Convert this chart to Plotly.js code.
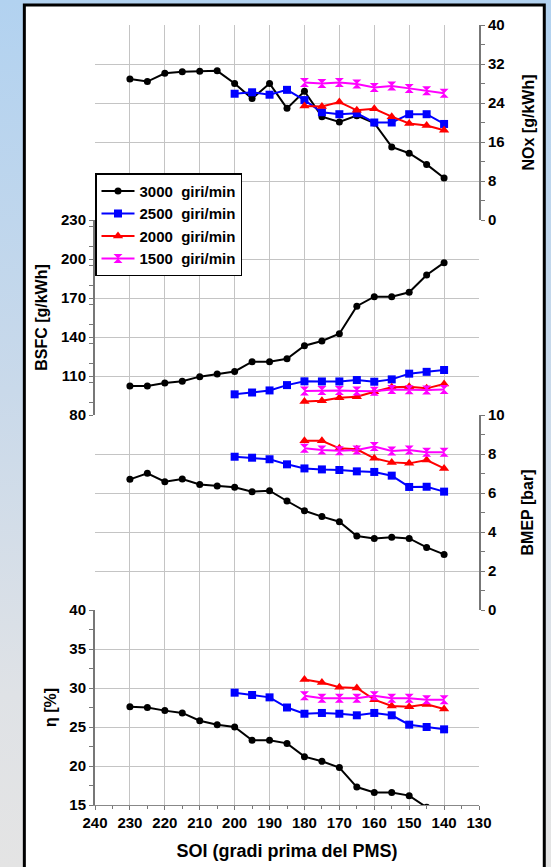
<!DOCTYPE html>
<html>
<head>
<meta charset="utf-8">
<script src="https://cdn.plot.ly/plotly-3.0.1.min.js"></script>
<style>
  html, body { margin: 0; padding: 0; width: 551px; height: 867px; overflow: hidden;
    background: linear-gradient(to bottom, #b2d2f0 0%, #c9d9ea 45%, #dfe2e6 80%, #e4e4e4 100%); }
  #chart { width: 551px; height: 867px; }
</style>
</head>
<body>
<div id="chart"></div>
<script>
// ---- data ----
const soi3000 = [230, 225, 220, 215, 210, 205, 200, 195, 190, 185, 180, 175, 170, 165, 160, 155, 150, 145, 140];
const soi2500 = [200, 195, 190, 185, 180, 175, 170, 165, 160, 155, 150, 145, 140];
const soi2000 = [180, 175, 170, 165, 160, 155, 150, 145, 140];
const soi1500 = [180, 175, 170, 165, 160, 155, 150, 145, 140];

const nox3000 = [28.9, 28.4, 30.1, 30.4, 30.5, 30.6, 28.0, 24.9, 28.0, 22.9, 26.4, 21.2, 20.1, 21.4, 19.9, 15.0, 13.7, 11.4, 8.6];
const nox2500 = [25.9, 26.2, 25.7, 26.7, 24.6, 22.1, 21.7, 21.9, 20.0, 20.0, 21.7, 21.7, 19.7];
const nox2000 = [23.4, 23.3, 24.2, 22.5, 22.8, 21.2, 19.8, 19.4, 18.4];
const nox1500 = [28.2, 28.0, 28.2, 27.9, 27.2, 27.5, 27.0, 26.5, 26.0];

const bsfc3000 = [102.4, 102.4, 104.6, 105.9, 109.5, 111.5, 113.5, 121.0, 121.0, 123.3, 133.3, 136.9, 142.5, 163.7, 171.0, 171.0, 174.4, 187.7, 197.2];
const bsfc2500 = [95.9, 97.3, 98.9, 103.0, 105.9, 105.8, 105.8, 106.9, 105.6, 107.4, 111.8, 113.2, 114.6];
const bsfc2000 = [90.3, 91.0, 93.3, 94.1, 97.9, 101.3, 101.8, 100.5, 103.8];
const bsfc1500 = [98.5, 98.8, 98.8, 98.5, 98.2, 99.7, 99.4, 99.2, 99.7];

const bmep3000 = [6.70, 7.01, 6.58, 6.72, 6.44, 6.36, 6.29, 6.07, 6.12, 5.59, 5.09, 4.79, 4.53, 3.79, 3.67, 3.73, 3.67, 3.21, 2.85];
const bmep2500 = [7.86, 7.81, 7.73, 7.47, 7.26, 7.21, 7.18, 7.11, 7.08, 6.89, 6.31, 6.32, 6.07];
const bmep2000 = [8.68, 8.68, 8.29, 8.24, 7.78, 7.57, 7.52, 7.69, 7.26];
const bmep1500 = [8.29, 8.21, 8.17, 8.21, 8.38, 8.15, 8.21, 8.09, 8.09];

const eta3000 = [27.6, 27.5, 27.1, 26.8, 25.8, 25.3, 25.0, 23.3, 23.3, 22.9, 21.2, 20.6, 19.8, 17.3, 16.6, 16.6, 16.2, 14.7, 14.3];
const eta2500 = [29.4, 29.1, 28.8, 27.5, 26.7, 26.8, 26.7, 26.5, 26.8, 26.5, 25.3, 25.0, 24.7];
const eta2000 = [31.1, 30.7, 30.1, 30.0, 28.5, 27.7, 27.6, 27.9, 27.3];
const eta1500 = [29.0, 28.7, 28.7, 28.7, 29.0, 28.7, 28.7, 28.5, 28.5];

const seriesNames = ['3000\u00a0 giri/min', '2500\u00a0 giri/min', '2000\u00a0 giri/min', '1500\u00a0 giri/min'];

// ---- styling ----
const styles = [
  {color: '#000000', symbol: 'circle', size: 7},
  {color: '#0000ff', symbol: 'square', size: 8},
  {color: '#ff0000', symbol: 'triangle-up', size: 9},
  {color: '#ff00ff', symbol: 'hourglass', size: 9}
];
const xs = [soi3000, soi2500, soi2000, soi1500];
const panels = [
  {axis: 'y2', data: [nox3000, nox2500, nox2000, nox1500]},
  {axis: 'y',  data: [bsfc3000, bsfc2500, bsfc2000, bsfc1500]},
  {axis: 'y3', data: [bmep3000, bmep2500, bmep2000, bmep1500]},
  {axis: 'y4', data: [eta3000, eta2500, eta2000, eta1500]}
];

const traces = [];
for (let s = 0; s < 4; s++) {
  panels.forEach((p, pi) => {
    traces.push({
      type: 'scatter', mode: 'lines+markers',
      x: xs[s], y: p.data[s],
      xaxis: 'x', yaxis: p.axis,
      name: seriesNames[s], legendgroup: 'g' + s,
      showlegend: pi === 0,
      line: {color: styles[s].color, width: 2},
      marker: {color: styles[s].color, symbol: styles[s].symbol, size: styles[s].size,
               line: {width: 0}},
      cliponaxis: true
    });
  });
}

const tickFont = {family: 'Liberation Sans, Arial, sans-serif', size: 15, color: '#000', weight: 'bold'};
const titleFont = {family: 'Liberation Sans, Arial, sans-serif', size: 16, color: '#000', weight: 'bold'};
const gridColor = '#c4c4c4';

function yax(domain, range, dtick, side, title, standoff) {
  return {
    domain: domain, range: range, dtick: dtick, tick0: range[0], side: side, anchor: 'x',
    showgrid: true, gridcolor: gridColor, gridwidth: 1, zeroline: false,
    showline: true, linecolor: '#777', linewidth: 2,
    ticks: 'outside', ticklen: 4, tickcolor: '#777', tickwidth: 1,
    minor: {dtick: dtick / 2, ticks: 'outside', ticklen: 4, tickcolor: '#777', showgrid: false},
    tickfont: tickFont,
    title: {text: title, font: titleFont, standoff: standoff},
    fixedrange: true
  };
}

const layout = {
  width: 551, height: 867,
  margin: {l: 95, r: 72, t: 25, b: 62},
  paper_bgcolor: 'rgba(0,0,0,0)',
  plot_bgcolor: 'rgba(0,0,0,0)',
  showlegend: true,
  legend: {
    x: 0.0, y: 0.81, xanchor: 'left', yanchor: 'top',
    bgcolor: '#ffffff', bordercolor: '#000', borderwidth: 1.5,
    font: {family: 'Liberation Sans, Arial, sans-serif', size: 15, color: '#000', weight: 'bold'},
    tracegroupgap: 0, itemwidth: 33
  },
  xaxis: {
    domain: [0, 1], range: [240, 130], dtick: 10, tick0: 130, anchor: 'y4',
    showgrid: true, gridcolor: gridColor, gridwidth: 1, zeroline: false,
    showline: true, linecolor: '#888', linewidth: 1,
    ticks: 'outside', ticklen: 4, tickcolor: '#777',
    minor: {dtick: 5, ticks: 'outside', ticklen: 3, tickcolor: '#777', showgrid: false},
    tickfont: tickFont,
    title: {text: 'SOI (gradi prima del PMS)', font: {family: 'Liberation Sans, Arial, sans-serif', size: 18, color: '#000', weight: 'bold'}, standoff: 14},
    fixedrange: true
  },
  yaxis:  yax([0.5, 0.75], [80, 230], 30, 'left', 'BSFC [g/kWh]', 9),
  yaxis2: yax([0.75, 1.0], [0, 40], 8, 'right', 'NOx [g/kWh]', 18),
  yaxis3: yax([0.25, 0.5], [0, 10], 2, 'right', 'BMEP [bar]', 18),
  yaxis4: yax([0.0, 0.25], [15, 40], 5, 'left', 'η [%]', 9),
  shapes: [{
    type: 'rect', xref: 'paper', yref: 'paper', layer: 'below',
    x0: -0.184, x1: 1.170, y0: -0.09, y1: 1.0256,
    fillcolor: '#ffffff', line: {color: '#000', width: 3}
  }]
};

Plotly.newPlot('chart', traces, layout, {displayModeBar: false, staticPlot: true});
</script>
</body>
</html>
